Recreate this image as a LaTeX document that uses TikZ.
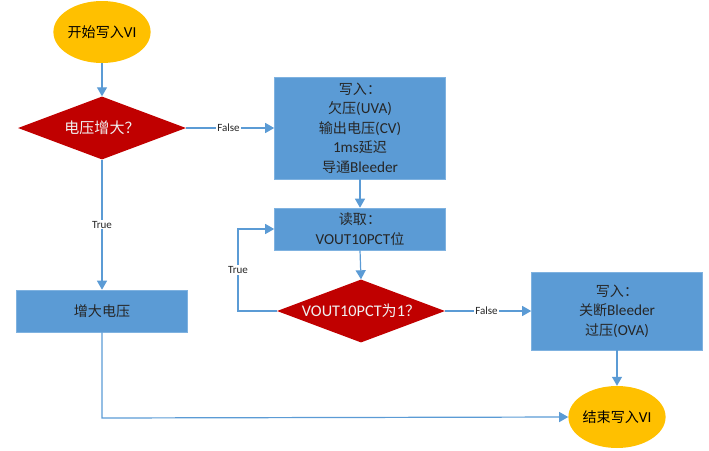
\documentclass[tikz,border=0pt]{standalone}
\usepackage{fontspec}
\setmainfont{Carlito}[Scale=1.05]
\newfontfamily\cjk{Noto Sans CJK SC}[Scale=0.97]
\usetikzlibrary{shapes.geometric,arrows.meta}
\definecolor{flowblue}{HTML}{5B9BD5}
\definecolor{boxedge}{HTML}{7FB2E0}
\definecolor{termyel}{HTML}{FFC000}
\definecolor{decred}{HTML}{C00000}
\definecolor{txtgray}{HTML}{262626}
\tikzset{
  term/.style={ellipse,fill=termyel,draw=none,minimum width=97pt,minimum height=62pt,inner sep=0pt,font=\fontsize{14.5}{17}\selectfont,text=black},
  procbox/.style={rectangle,fill=flowblue,draw=boxedge,line width=0.6pt,minimum width=171pt,inner sep=0pt,align=center,font=\fontsize{14.5}{19.5}\selectfont,text=txtgray},
  decide/.style={diamond,fill=decred,draw=none,minimum width=168pt,minimum height=63pt,inner sep=0pt,aspect=2.67,font=\fontsize{15.5}{18}\selectfont,text=white!88!gray},
  flow/.style={draw=flowblue,line width=1.2pt,-{Triangle[length=9pt,width=10pt]}},
  lbl/.style={fill=white,inner sep=1pt,font=\fontsize{10.5}{12}\selectfont,text=txtgray}
}
\begin{document}
\begin{tikzpicture}[x=1pt,y=-1pt]
\useasboundingbox (0,0) rectangle (709,450);
\node[term] (start) at (102,32) {{\cjk 开始写入}VI};
\node[decide] (d1) at (102,128) {{\cjk 电压增大？}};
\node[procbox,minimum height=102pt] (w1) at (360,128) {{\cjk 写入：}\\{\cjk 欠压}(UVA)\\{\cjk 输出电压}(CV)\\1ms{\cjk 延迟}\\{\cjk 导通}Bleeder};
\node[procbox,minimum height=42pt,font=\fontsize{14.5}{20}\selectfont] (rd) at (360,229) {{\cjk 读取：}\\VOUT10PCT{\cjk 位}};
\node[decide] (d2) at (361,311) {VOUT10PCT{\cjk 为}1{\cjk ？}};
\node[procbox,minimum height=42pt] (inc) at (102,311) {{\cjk 增大电压}};
\node[procbox,minimum height=78pt] (w2) at (617,311) {{\cjk 写入：}\\{\cjk 关断}Bleeder\\{\cjk 过压}(OVA)};
\node[term] (stop) at (617,417) {{\cjk 结束写入}VI};
\coordinate (loopA) at (238,311);
\coordinate (loopB) at (238,229);
\coordinate (bend) at (102,418);

\draw[flow] (start) -- (d1);
\draw[flow] (d1.east) -- node[lbl,pos=0.48]{False} (w1.west);
\draw[flow] (d1.south) -- node[lbl,pos=0.5]{True} (inc.north);
\draw[flow] (w1.south) -- (rd.north);
\draw[flow] (rd.south) -- (d2.north);
\draw[flow] (d2.west) -- (loopA) -- node[lbl,pos=0.5]{True} (loopB) -- (rd.west);
\draw[flow] (d2.east) -- node[lbl,pos=0.48]{False} (w2.west);
\draw[flow] (w2.south) -- (stop.north);
\draw[flow] (inc.south) -- (bend) -- (stop.west);
\end{tikzpicture}
\end{document}
